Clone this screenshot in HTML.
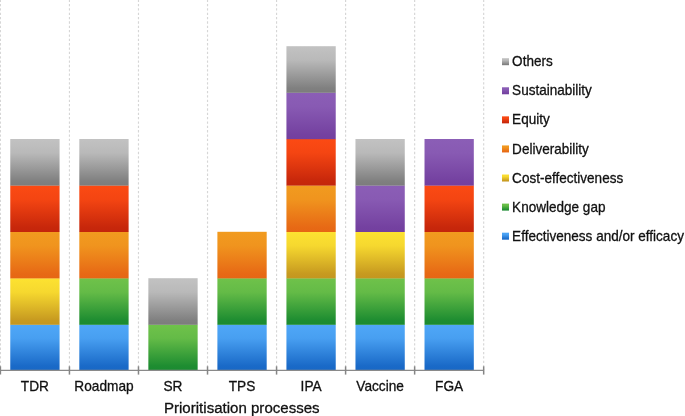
<!DOCTYPE html>
<html><head><meta charset="utf-8"><title>Prioritisation processes</title>
<style>html,body{margin:0;padding:0;background:#fff;}svg{display:block}text{font-family:"Liberation Sans",Arial,Helvetica,sans-serif;fill:#111;}</style></head><body>
<svg width="685" height="416" viewBox="0 0 685 416">
<defs>
<linearGradient id="g-blue" x1="0" y1="0" x2="0" y2="1"><stop offset="0" stop-color="#4fa7f7"/><stop offset="0.3" stop-color="#489ff1"/><stop offset="0.9" stop-color="#1a6ac8"/><stop offset="1" stop-color="#1767c6"/></linearGradient>
<linearGradient id="g-green" x1="0" y1="0" x2="0" y2="1"><stop offset="0" stop-color="#6fc24a"/><stop offset="0.3" stop-color="#64bb47"/><stop offset="0.9" stop-color="#1e8d31"/><stop offset="1" stop-color="#1a8a30"/></linearGradient>
<linearGradient id="g-yellow" x1="0" y1="0" x2="0" y2="1"><stop offset="0" stop-color="#fde231"/><stop offset="0.3" stop-color="#f6d82f"/><stop offset="0.9" stop-color="#c79a20"/><stop offset="1" stop-color="#c4961f"/></linearGradient>
<linearGradient id="g-orange" x1="0" y1="0" x2="0" y2="1"><stop offset="0" stop-color="#f19b1f"/><stop offset="0.3" stop-color="#f0941e"/><stop offset="0.9" stop-color="#e76915"/><stop offset="1" stop-color="#e66614"/></linearGradient>
<linearGradient id="g-red" x1="0" y1="0" x2="0" y2="1"><stop offset="0" stop-color="#fb4a13"/><stop offset="0.3" stop-color="#f44512"/><stop offset="0.9" stop-color="#c7270b"/><stop offset="1" stop-color="#c4250b"/></linearGradient>
<linearGradient id="g-purple" x1="0" y1="0" x2="0" y2="1"><stop offset="0" stop-color="#8b5eb6"/><stop offset="0.3" stop-color="#885ab3"/><stop offset="0.9" stop-color="#7441a0"/><stop offset="1" stop-color="#733f9f"/></linearGradient>
<linearGradient id="g-gray" x1="0" y1="0" x2="0" y2="1"><stop offset="0" stop-color="#c2c2c2"/><stop offset="0.3" stop-color="#b9b9b9"/><stop offset="0.9" stop-color="#808080"/><stop offset="1" stop-color="#7c7c7c"/></linearGradient>
</defs>
<rect width="685" height="416" fill="#fff"/>
<line x1="0.40" y1="-0.4" x2="0.40" y2="370.0" stroke="#d6d6d6" stroke-width="1.15" stroke-dasharray="2.3 2.05"/>
<line x1="69.44" y1="-0.4" x2="69.44" y2="370.0" stroke="#d6d6d6" stroke-width="1.15" stroke-dasharray="2.3 2.05"/>
<line x1="138.48" y1="-0.4" x2="138.48" y2="370.0" stroke="#d6d6d6" stroke-width="1.15" stroke-dasharray="2.3 2.05"/>
<line x1="207.52" y1="-0.4" x2="207.52" y2="370.0" stroke="#d6d6d6" stroke-width="1.15" stroke-dasharray="2.3 2.05"/>
<line x1="276.56" y1="-0.4" x2="276.56" y2="370.0" stroke="#d6d6d6" stroke-width="1.15" stroke-dasharray="2.3 2.05"/>
<line x1="345.60" y1="-0.4" x2="345.60" y2="370.0" stroke="#d6d6d6" stroke-width="1.15" stroke-dasharray="2.3 2.05"/>
<line x1="414.64" y1="-0.4" x2="414.64" y2="370.0" stroke="#d6d6d6" stroke-width="1.15" stroke-dasharray="2.3 2.05"/>
<line x1="483.68" y1="-0.4" x2="483.68" y2="370.0" stroke="#d6d6d6" stroke-width="1.15" stroke-dasharray="2.3 2.05"/>
<rect x="10.27" y="324.60" width="49.3" height="45.70" fill="url(#g-blue)"/>
<rect x="10.27" y="278.20" width="49.3" height="46.60" fill="url(#g-yellow)"/>
<rect x="10.27" y="231.80" width="49.3" height="46.60" fill="url(#g-orange)"/>
<rect x="10.27" y="185.40" width="49.3" height="46.60" fill="url(#g-red)"/>
<rect x="10.27" y="139.00" width="49.3" height="46.60" fill="url(#g-gray)"/>
<rect x="79.31" y="324.60" width="49.3" height="45.70" fill="url(#g-blue)"/>
<rect x="79.31" y="278.20" width="49.3" height="46.60" fill="url(#g-green)"/>
<rect x="79.31" y="231.80" width="49.3" height="46.60" fill="url(#g-orange)"/>
<rect x="79.31" y="185.40" width="49.3" height="46.60" fill="url(#g-red)"/>
<rect x="79.31" y="139.00" width="49.3" height="46.60" fill="url(#g-gray)"/>
<rect x="148.35" y="324.60" width="49.3" height="45.70" fill="url(#g-green)"/>
<rect x="148.35" y="278.20" width="49.3" height="46.60" fill="url(#g-gray)"/>
<rect x="217.39" y="324.60" width="49.3" height="45.70" fill="url(#g-blue)"/>
<rect x="217.39" y="278.20" width="49.3" height="46.60" fill="url(#g-green)"/>
<rect x="217.39" y="231.80" width="49.3" height="46.60" fill="url(#g-orange)"/>
<rect x="286.43" y="324.60" width="49.3" height="45.70" fill="url(#g-blue)"/>
<rect x="286.43" y="278.20" width="49.3" height="46.60" fill="url(#g-green)"/>
<rect x="286.43" y="231.80" width="49.3" height="46.60" fill="url(#g-yellow)"/>
<rect x="286.43" y="185.40" width="49.3" height="46.60" fill="url(#g-orange)"/>
<rect x="286.43" y="139.00" width="49.3" height="46.60" fill="url(#g-red)"/>
<rect x="286.43" y="92.60" width="49.3" height="46.60" fill="url(#g-purple)"/>
<rect x="286.43" y="46.20" width="49.3" height="46.60" fill="url(#g-gray)"/>
<rect x="355.47" y="324.60" width="49.3" height="45.70" fill="url(#g-blue)"/>
<rect x="355.47" y="278.20" width="49.3" height="46.60" fill="url(#g-green)"/>
<rect x="355.47" y="231.80" width="49.3" height="46.60" fill="url(#g-yellow)"/>
<rect x="355.47" y="185.40" width="49.3" height="46.60" fill="url(#g-purple)"/>
<rect x="355.47" y="139.00" width="49.3" height="46.60" fill="url(#g-gray)"/>
<rect x="424.51" y="324.60" width="49.3" height="45.70" fill="url(#g-blue)"/>
<rect x="424.51" y="278.20" width="49.3" height="46.60" fill="url(#g-green)"/>
<rect x="424.51" y="231.80" width="49.3" height="46.60" fill="url(#g-orange)"/>
<rect x="424.51" y="185.40" width="49.3" height="46.60" fill="url(#g-red)"/>
<rect x="424.51" y="139.00" width="49.3" height="46.60" fill="url(#g-purple)"/>
<line x1="0" y1="370.3" x2="483.68" y2="370.3" stroke="#8a8a8a" stroke-width="1.2"/>
<line x1="0.40" y1="366.3" x2="0.40" y2="374.6" stroke="#858585" stroke-width="1.5"/>
<line x1="69.44" y1="366.3" x2="69.44" y2="374.6" stroke="#858585" stroke-width="1.5"/>
<line x1="138.48" y1="366.3" x2="138.48" y2="374.6" stroke="#858585" stroke-width="1.5"/>
<line x1="207.52" y1="366.3" x2="207.52" y2="374.6" stroke="#858585" stroke-width="1.5"/>
<line x1="276.56" y1="366.3" x2="276.56" y2="374.6" stroke="#858585" stroke-width="1.5"/>
<line x1="345.60" y1="366.3" x2="345.60" y2="374.6" stroke="#858585" stroke-width="1.5"/>
<line x1="414.64" y1="366.3" x2="414.64" y2="374.6" stroke="#858585" stroke-width="1.5"/>
<line x1="483.68" y1="366.3" x2="483.68" y2="374.6" stroke="#858585" stroke-width="1.5"/>
<text transform="translate(34.92 391.3) scale(0.95 1)" font-size="14.4" text-anchor="middle" stroke="#111" stroke-width="0.3">TDR</text>
<text transform="translate(103.96 391.3) scale(0.95 1)" font-size="14.4" text-anchor="middle" stroke="#111" stroke-width="0.3">Roadmap</text>
<text transform="translate(173.00 391.3) scale(0.95 1)" font-size="14.4" text-anchor="middle" stroke="#111" stroke-width="0.3">SR</text>
<text transform="translate(242.04 391.3) scale(0.95 1)" font-size="14.4" text-anchor="middle" stroke="#111" stroke-width="0.3">TPS</text>
<text transform="translate(311.08 391.3) scale(0.95 1)" font-size="14.4" text-anchor="middle" stroke="#111" stroke-width="0.3">IPA</text>
<text transform="translate(380.12 391.3) scale(0.95 1)" font-size="14.4" text-anchor="middle" stroke="#111" stroke-width="0.3">Vaccine</text>
<text transform="translate(449.16 391.3) scale(0.95 1)" font-size="14.4" text-anchor="middle" stroke="#111" stroke-width="0.3">FGA</text>
<text transform="translate(241.8 412.6) scale(0.985 1)" font-size="15.3" text-anchor="middle" stroke="#111" stroke-width="0.3">Prioritisation processes</text>
<rect x="502" y="58.20" width="7" height="7" fill="url(#g-gray)"/>
<text transform="translate(512.1 66.30) scale(0.941 1)" font-size="14.4" stroke="#111" stroke-width="0.3">Others</text>
<rect x="502" y="87.28" width="7" height="7" fill="url(#g-purple)"/>
<text transform="translate(512.1 95.38) scale(0.941 1)" font-size="14.4" stroke="#111" stroke-width="0.3">Sustainability</text>
<rect x="502" y="116.36" width="7" height="7" fill="url(#g-red)"/>
<text transform="translate(512.1 124.46) scale(0.941 1)" font-size="14.4" stroke="#111" stroke-width="0.3">Equity</text>
<rect x="502" y="145.44" width="7" height="7" fill="url(#g-orange)"/>
<text transform="translate(512.1 153.54) scale(0.941 1)" font-size="14.4" stroke="#111" stroke-width="0.3">Deliverability</text>
<rect x="502" y="174.52" width="7" height="7" fill="url(#g-yellow)"/>
<text transform="translate(512.1 182.62) scale(0.941 1)" font-size="14.4" stroke="#111" stroke-width="0.3">Cost-effectiveness</text>
<rect x="502" y="203.60" width="7" height="7" fill="url(#g-green)"/>
<text transform="translate(512.1 211.70) scale(0.941 1)" font-size="14.4" stroke="#111" stroke-width="0.3">Knowledge gap</text>
<rect x="502" y="232.68" width="7" height="7" fill="url(#g-blue)"/>
<text transform="translate(512.1 240.78) scale(0.941 1)" font-size="14.4" stroke="#111" stroke-width="0.3">Effectiveness and/or efficacy</text>
</svg></body></html>
